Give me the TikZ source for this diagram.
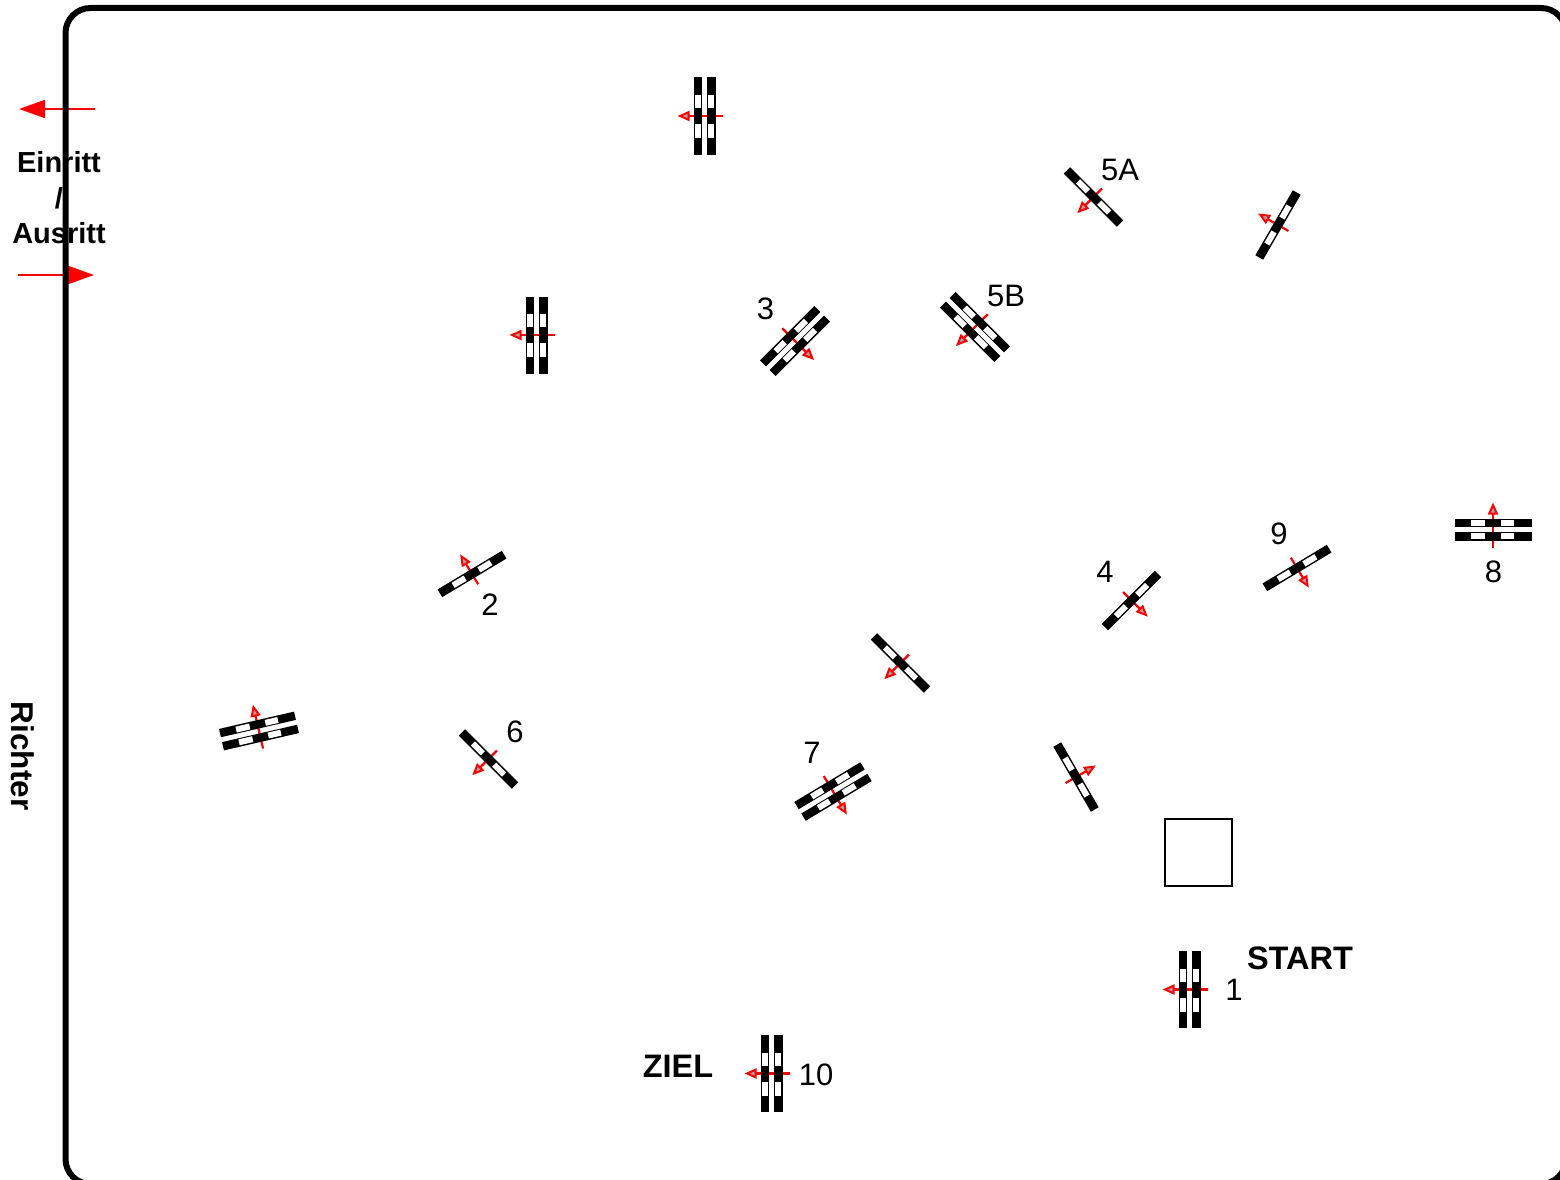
\documentclass[tikz,border=0pt]{standalone}
\usepackage{fontspec}
\setmainfont{Liberation Sans}
\usetikzlibrary{arrows.meta}
\definecolor{ArrowClr}{rgb}{1,0,0}

\tikzset{
  numlabel/.style={font=\fontsize{31}{31}\selectfont,inner sep=0pt},
  boldlabel/.style={font=\fontsize{32.5}{32.5}\selectfont\bfseries,inner sep=0pt},
  sidelabel/.style={font=\fontsize{29}{29}\selectfont\bfseries,inner sep=0pt},
  rail/.style={fill=black,draw=none},
  gap/.style={fill=white,draw=none},
  jumparrow/.style={draw=ArrowClr,line width=2.2pt,-{Triangle[length=12pt,width=10pt,fill=gray!70,line width=2pt]}},
  bigarrow/.style={draw=ArrowClr,line width=2.2pt,-{Triangle[length=26pt,width=18pt,fill=ArrowClr]}},
  singlejump/.pic={
    \coordinate (-tail) at (12,0);
    \coordinate (-tip) at (-23,0);
    \draw[jumparrow] (-tail) -- (-tip);
    \path[rail] (-4.5,-37.5) rectangle (4.5,37.5);
    \path[gap] (-3,-22) rectangle (3,-8);
    \path[gap] (-3,8) rectangle (3,22);
  },
  doublejump/.pic={
    \coordinate (-tail) at (18,0);
    \coordinate (-tip) at (-27,0);
    \draw[jumparrow] (-tail) -- (-tip);
    \path[rail] (-11,-38.5) rectangle (-2.5,38.5);
    \path[rail] (2.5,-38.5) rectangle (11,38.5);
    \path[gap] (-9.5,-21) rectangle (-3.5,-8);
    \path[gap] (-9.5,8) rectangle (-3.5,22);
    \path[gap] (3.5,-21) rectangle (9.5,-8);
    \path[gap] (3.5,8) rectangle (9.5,22);
  }
}

\begin{document}
\begin{tikzpicture}[x=1pt,y=-1pt]
\useasboundingbox (0,0) rectangle (1560,1180);
\clip (0,0) rectangle (1560,1180);

% entrance arrows
\coordinate (ein1) at (95,109);
\coordinate (ein2) at (19,109);
\coordinate (aus1) at (18,275);
\coordinate (aus2) at (94,275);
\draw[bigarrow] (ein1) -- (ein2);
\draw[bigarrow] (aus1) -- (aus2);

\node[sidelabel] (einritt) at (59,162) {Einritt};
\node[sidelabel] (slash) at (59,198) {/};
\node[sidelabel] (ausritt) at (59,233) {Ausritt};
\node[sidelabel,font=\fontsize{31.5}{31.5}\selectfont\bfseries,rotate=-90] (richter) at (22.5,756) {Richter};

% arena
\draw[line width=6pt,rounded corners=25pt] (65.5,8) rectangle (1566,1184);

% jumps
\pic[rotate=0] (jtop) at (704.5,116) {doublejump};
\pic[rotate=0] (jleft) at (536.5,335) {doublejump};
\pic[rotate=135] (jthree) at (795,341) {doublejump};
\pic[rotate=45] (jfiveb) at (975,327) {doublejump};
\pic[rotate=45] (jfivea) at (1093.5,197) {singlejump};
\pic[rotate=-30] (jright) at (1278,225) {singlejump};
\pic[rotate=-59] (jtwo) at (472,574) {singlejump};
\pic[rotate=135] (jfour) at (1131.5,600.5) {singlejump};
\pic[rotate=121] (jnine) at (1297,568) {singlejump};
\pic[rotate=-90] (jeight) at (1493,529.5) {doublejump};
\pic[rotate=45] (jmid) at (900.5,663) {singlejump};
\pic[rotate=45] (jsix) at (488.5,759) {singlejump};
\pic[rotate=-77] (jfar) at (259,731) {doublejump};
\pic[rotate=121] (jseven) at (833,791.5) {doublejump};
\pic[rotate=-150] (jlow) at (1076,777) {singlejump};
\pic[rotate=0] (jone) at (1189.5,989.5) {doublejump};
\pic[rotate=0] (jten) at (771.5,1073.5) {doublejump};

\node[draw=black,line width=1.3pt,minimum size=67pt,inner sep=0pt] (box) at (1198.5,852.5) {};

\node[numlabel] (l5a) at (1120,170) {5A};
\node[numlabel] (l5b) at (1006,296) {5B};
\node[numlabel] (l3) at (765.5,309) {3};
\node[numlabel] (l2) at (490,605) {2};
\node[numlabel] (l6) at (515,732) {6};
\node[numlabel] (l7) at (812,753) {7};
\node[numlabel] (l4) at (1105,572) {4};
\node[numlabel] (l9) at (1279,534) {9};
\node[numlabel] (l8) at (1493.5,572) {8};
\node[numlabel] (l1) at (1234,990) {1};
\node[numlabel] (l10) at (816,1074.5) {10};
\node[boldlabel] (start) at (1300,958) {START};
\node[boldlabel] (ziel) at (678,1066) {ZIEL};

\end{tikzpicture}
\end{document}
